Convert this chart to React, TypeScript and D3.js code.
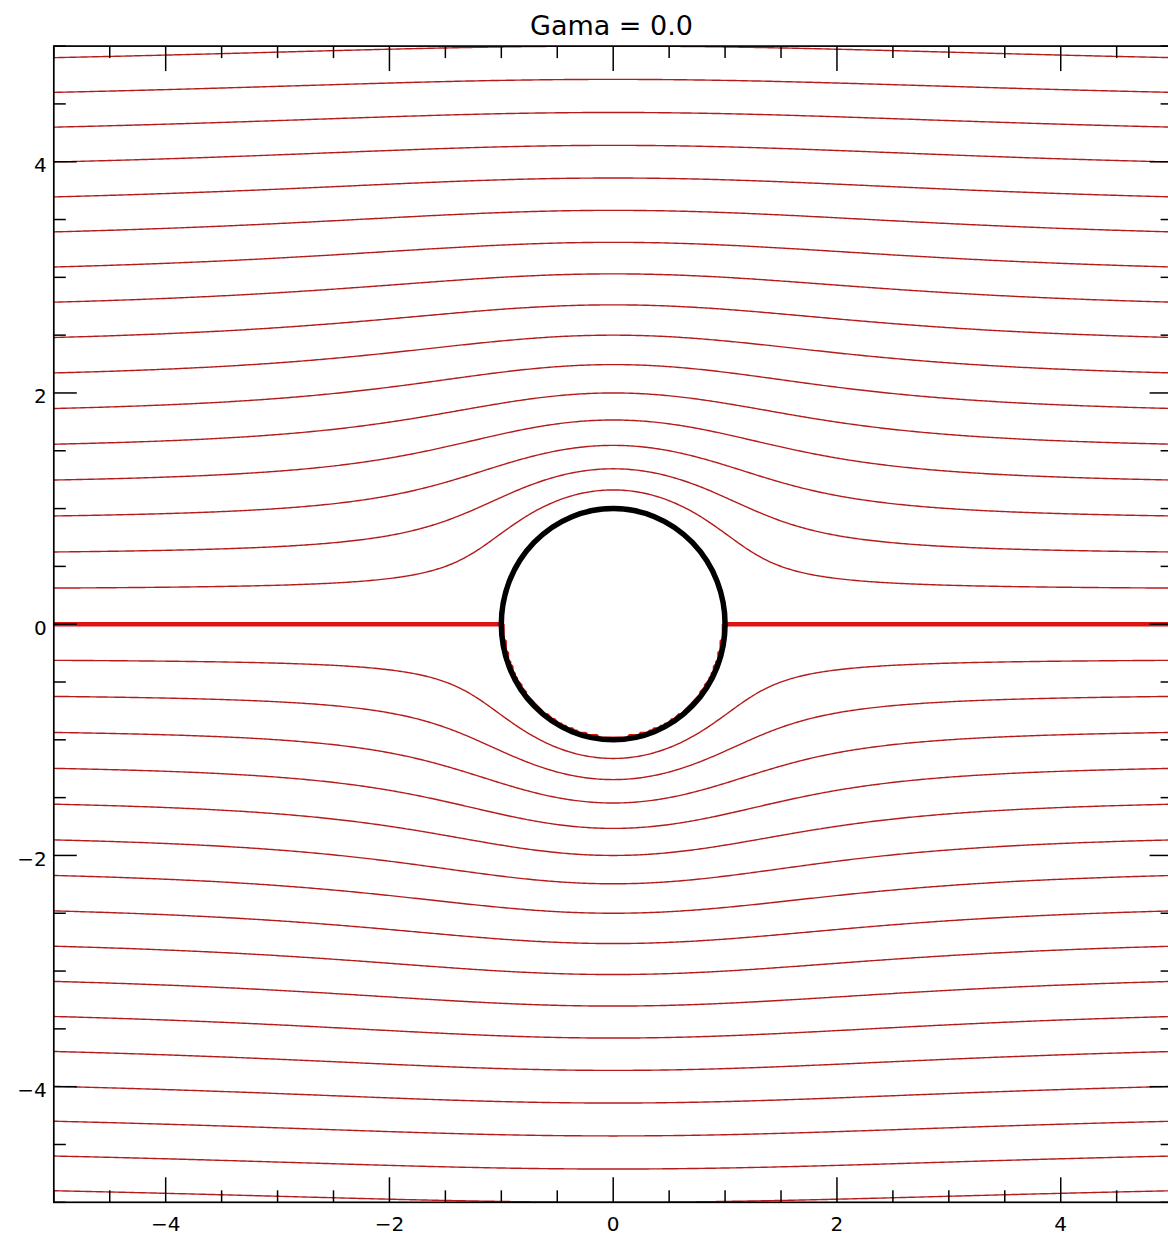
import React from "react";
import * as d3 from "d3";

// flow past a cylinder
const gama = 0.0; // circulation
const U = 1; // free stream speed
const R = 1; // cylinder radius

// streamline levels (values of psi)
const levels = [
  -4.8, -4.5, -4.2, -3.9, -3.6, -3.3, -3.0, -2.7, -2.4, -2.1, -1.8, -1.5, -1.2, -0.9, -0.6, -0.3,
  0.3, 0.6, 0.9, 1.2, 1.5, 1.8, 2.1, 2.4, 2.7, 3.0, 3.3, 3.6, 3.9, 4.2, 4.5, 4.8,
];
const zeroLevel = [0];

const xDomain = [-5, 5];
const yDomain = [-5, 5];
const xTicks = [-4, -2, 0, 2, 4];
const yTicks = [-4, -2, 0, 2, 4];

const W = 1168;
const H = 1236;

const App = () => {
  const ref = React.useRef<SVGSVGElement>(null);

  React.useEffect(() => {
    const svg = d3.select(ref.current);
    svg.selectAll("*").remove();

    const left = 53.8, right = 1172.6, top = 46.1, bottom = 1202.3;
    const x = d3.scaleLinear().domain(xDomain).range([left, right]);
    const y = d3.scaleLinear().domain(yDomain).range([bottom, top]);

    // stream function on a grid a bit larger than the plot
    const n = 560;
    const step = 0.02;
    const gx0 = -5.6;
    const gy1 = 5.6;
    const psi = (xx: number, yy: number) => {
      const r2 = xx * xx + yy * yy;
      if (r2 < R * R) return 0;
      return U * yy * (1 - (R * R) / r2) + (gama / (2 * Math.PI)) * Math.log(Math.sqrt(r2) / R);
    };
    const values: number[] = new Array(n * n);
    for (let j = 0; j < n; j++) {
      const yy = gy1 - (j + 0.5) * step;
      for (let i = 0; i < n; i++) {
        const xx = gx0 + (i + 0.5) * step;
        values[j * n + i] = psi(xx, yy);
      }
    }

    const proj = d3.geoTransform({
      point(px: number, py: number) {
        (this as any).stream.point(x(gx0 + px * step), y(gy1 - py * step));
      },
    });
    const path = d3.geoPath(proj);

    svg.append("clipPath")
      .attr("id", "plot-clip")
      .append("rect")
      .attr("x", left)
      .attr("y", top)
      .attr("width", right - left)
      .attr("height", bottom - top);

    const g = svg.append("g").attr("clip-path", "url(#plot-clip)");

    const lines = d3.contours().size([n, n]).thresholds(levels)(values);
    g.selectAll("path.stream")
      .data(lines)
      .join("path")
      .attr("class", "stream")
      .attr("d", (d) => path(d as any))
      .attr("fill", "none")
      .attr("stroke", "#b41c1c")
      .attr("stroke-width", 1.4);

    const zero = d3.contours().size([n, n]).thresholds(zeroLevel)(values);
    g.selectAll("path.zero")
      .data(zero)
      .join("path")
      .attr("class", "zero")
      .attr("d", (d) => path(d as any))
      .attr("fill", "none")
      .attr("stroke", "#dc1414")
      .attr("stroke-width", 4.5);

    // cylinder
    g.append("ellipse")
      .attr("cx", x(0))
      .attr("cy", y(0))
      .attr("rx", x(R) - x(0))
      .attr("ry", y(0) - y(R))
      .attr("fill", "none")
      .attr("stroke", "black")
      .attr("stroke-width", 5.5);

    // frame
    svg.append("rect")
      .attr("x", left)
      .attr("y", top)
      .attr("width", right - left)
      .attr("height", bottom - top)
      .attr("fill", "none")
      .attr("stroke", "black")
      .attr("stroke-width", 1.7);

    const xt = x.ticks(20).map((v) => ({ v, major: xTicks.includes(v) }));
    const yt = y.ticks(20).map((v) => ({ v, major: yTicks.includes(v) }));
    const ticks = svg.append("g").attr("stroke", "black").attr("stroke-width", 1.5);

    ticks.selectAll("line.xb").data(xt).join("line")
      .attr("x1", (d) => x(d.v)).attr("x2", (d) => x(d.v))
      .attr("y1", bottom).attr("y2", (d) => bottom - (d.major ? 25 : 12));
    ticks.selectAll("line.xt").data(xt).join("line")
      .attr("class", "xt")
      .attr("x1", (d) => x(d.v)).attr("x2", (d) => x(d.v))
      .attr("y1", top).attr("y2", (d) => top + (d.major ? 25 : 12));
    ticks.selectAll("line.yl").data(yt).join("line")
      .attr("class", "yl")
      .attr("y1", (d) => y(d.v)).attr("y2", (d) => y(d.v))
      .attr("x1", left).attr("x2", (d) => left + (d.major ? 23 : 12));
    ticks.selectAll("line.yr").data(yt).join("line")
      .attr("class", "yr")
      .attr("y1", (d) => y(d.v)).attr("y2", (d) => y(d.v))
      .attr("x1", right).attr("x2", (d) => right - (d.major ? 23 : 12));

    const fmt = d3.format("d");
    const font = '"DejaVu Sans", sans-serif';

    svg.selectAll("text.xl").data(xTicks).join("text")
      .attr("class", "xl")
      .attr("x", (d) => x(d))
      .attr("y", 1231)
      .attr("text-anchor", "middle")
      .attr("font-family", font)
      .attr("font-size", 20)
      .text((d) => fmt(d));

    svg.selectAll("text.yl").data(yTicks).join("text")
      .attr("class", "yl")
      .attr("x", left - 7)
      .attr("y", (d) => y(d) + 10.5)
      .attr("text-anchor", "end")
      .attr("font-family", font)
      .attr("font-size", 20)
      .text((d) => fmt(d));

    svg.append("text")
      .attr("x", 611.5)
      .attr("y", 35)
      .attr("text-anchor", "middle")
      .attr("font-family", font)
      .attr("font-size", 27)
      .text(`Gama = ${gama.toFixed(1)}`);
  }, []);

  return (
    <svg
      ref={ref}
      width={W}
      height={H}
      style={{ position: "absolute", left: 0, top: 0, background: "white" }}
    ></svg>
  );
};

export default App;
